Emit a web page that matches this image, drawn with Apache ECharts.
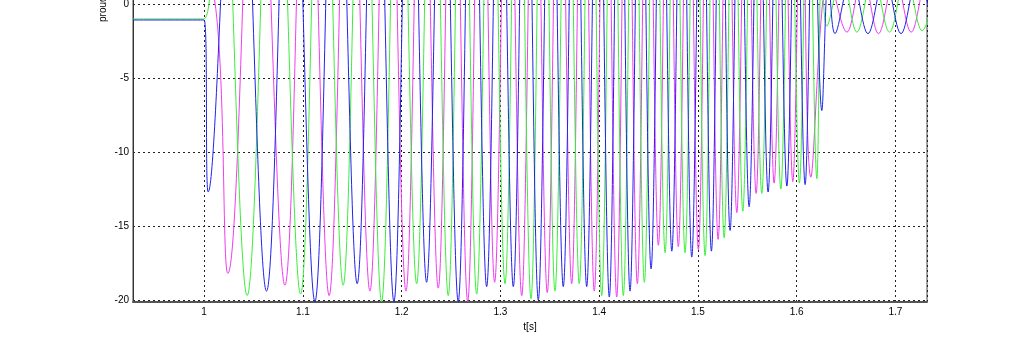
<!DOCTYPE html>
<html>
<head>
<meta charset="utf-8">
<script src="https://cdn.jsdelivr.net/npm/echarts@6/dist/echarts.min.js"></script>
<style>html,body{margin:0;padding:0;background:#fff;}#c{width:1024px;height:353px;}</style>
</head>
<body>
<div id="c"></div>
<script>
// turning points [t, value] (peaks above the visible area are estimates)
const blueData = [[0.928,-1.08],[1.0,-1.08],[1.0041,-12.7],[1.0337,19],[1.0632,-19.4],[1.0877,19.5],[1.1122,-20.1],[1.1336,19.5],[1.155,-18.9],[1.1736,19.5],[1.1922,-20.1],[1.2088,19.5],[1.2253,-18.8],[1.2413,19.5],[1.2573,-20.1],[1.2717,19.5],[1.2861,-19.1],[1.2996,19.2],[1.3131,-19.1],[1.3258,19.5],[1.3384,-20.0],[1.3511,19.5],[1.3637,-19.1],[1.3756,19.1],[1.3874,-19.1],[1.3989,19.4],[1.4103,-19.8],[1.4208,19.6],[1.4313,-19.4],[1.442,18.6],[1.4526,-17.9],[1.4631,17.3],[1.4736,-16.7],[1.4837,16.9],[1.4938,-17.1],[1.5038,16.9],[1.5137,-16.7],[1.5232,16],[1.5326,-15.3],[1.5423,14.5],[1.5519,-13.7],[1.5615,13.2],[1.5711,-12.7],[1.5806,12.5],[1.5901,-12.3],[1.5994,12.2],[1.6086,-12.2],[1.6171,9],[1.6255,-7.2],[1.6322,2.0],[1.6388,-2.0],[1.6555,1.9],[1.6722,-2.0],[1.689,1.9],[1.7057,-2.0],[1.7224,1.9],[1.739,-2.0]];
const magentaData = [[0.928,2.2],[1.0,2.2],[1.024,-18.2],[1.0529,18.6],[1.0818,-19.0],[1.1042,19.3],[1.1266,-19.7],[1.1473,19.5],[1.1679,-19.4],[1.1862,19.4],[1.2044,-19.4],[1.2208,19.3],[1.2371,-19.2],[1.252,19.6],[1.2669,-20.1],[1.2806,19.4],[1.2942,-18.8],[1.3079,19.2],[1.3216,-19.7],[1.3346,19.6],[1.3475,-19.5],[1.3599,19.2],[1.3722,-18.9],[1.3837,19.1],[1.3951,-19.4],[1.4065,19.6],[1.4178,-19.8],[1.4283,19.3],[1.4387,-18.9],[1.4494,17.6],[1.46,-16.3],[1.4701,16.3],[1.4802,-16.4],[1.4904,16.5],[1.5005,-16.6],[1.5105,16.2],[1.5205,-15.9],[1.53,15],[1.5394,-14.1],[1.5492,13.4],[1.559,-12.8],[1.5681,12.4],[1.5772,-12.1],[1.5867,12],[1.5961,-12.0],[1.6053,11.8],[1.6144,-11.7],[1.6326,2.0],[1.6509,-1.9],[1.6669,1.9],[1.6829,-2.0],[1.6995,1.9],[1.716,-1.9],[1.7326,1.9],[1.75,-2.0]];
const greenData = [[0.928,-1.01],[1.0,-1.01],[1.0146,19],[1.0436,-19.7],[1.0707,19.6],[1.0977,-19.6],[1.1193,19.3],[1.1408,-19.0],[1.1603,19.5],[1.1797,-20.1],[1.1975,19.5],[1.2152,-18.9],[1.2312,19.3],[1.2472,-19.7],[1.2616,19.6],[1.276,-19.6],[1.2904,19.2],[1.3047,-18.9],[1.3179,19.4],[1.331,-19.9],[1.3432,19.6],[1.3553,-19.4],[1.3676,19.1],[1.3799,-18.9],[1.3913,19.3],[1.4026,-19.7],[1.4136,19.7],[1.4245,-19.7],[1.4352,19.2],[1.4458,-18.8],[1.4563,17.8],[1.4668,-16.8],[1.4769,16.8],[1.487,-16.8],[1.4972,16.9],[1.5073,-17.0],[1.517,16.4],[1.5266,-15.8],[1.5361,14.9],[1.5455,-14.0],[1.5551,13.4],[1.5647,-12.8],[1.5744,12.6],[1.584,-12.5],[1.5934,12.3],[1.6028,-12.1],[1.6117,12],[1.6205,-11.8],[1.6255,3.0],[1.6306,-1.5],[1.6458,1.9],[1.661,-1.9],[1.6775,1.9],[1.694,-1.9],[1.7105,1.9],[1.727,-1.8],[1.744,1.9]];
const xLabel = 't[s]';
const yLabel = 'proud [A]';

const FONT = 'Liberation Sans, Arial, sans-serif';
const chart = echarts.init(document.getElementById('c'), null, {renderer: 'canvas'});
const lineSeries = (data, color) => ({
  type: 'line', data: data, showSymbol: false, smooth: 0.36, clip: true,
  lineStyle: {color: color, width: 1}, animation: false
});
chart.setOption({
  backgroundColor: '#ffffff',
  animation: false,
  grid: {left: 133, right: 97, top: -70, bottom: 51.5, outerBoundsMode: 'none', containLabel: false,
    show: true, borderColor: '#444', borderWidth: 1, backgroundColor: 'transparent'},
  xAxis: {
    type: 'value', min: 0.928, max: 1.732, minInterval: 0.1, maxInterval: 0.1,
    name: xLabel, nameLocation: 'middle', nameGap: 20,
    nameTextStyle: {fontFamily: FONT, fontSize: 10, color: '#000'},
    axisLine: {show: true, onZero: false, lineStyle: {color: '#555', width: 2}},
    axisTick: {show: false},
    axisLabel: {fontFamily: FONT, fontSize: 10, color: '#000', margin: 6, showMinLabel: false, showMaxLabel: false,
      formatter: v => String(Math.round(v * 10) / 10)},
    splitLine: {show: true, lineStyle: {color: '#222', type: [2, 3], width: 1}}
  },
  yAxis: {
    type: 'value', min: -20.1, max: 5, minInterval: 5, maxInterval: 5,
    axisLine: {show: true, onZero: false, lineStyle: {color: '#333', width: 1}},
    axisTick: {show: false},
    axisLabel: {fontFamily: FONT, fontSize: 10, color: '#000', margin: 4, showMinLabel: false},
    splitLine: {show: true, lineStyle: {color: '#222', type: [2, 3], width: 1}}
  },
  graphic: [{
    type: 'text', x: 98, y: 22, rotation: Math.PI / 2,
    style: {text: yLabel, fontFamily: FONT, fontSize: 10, fill: '#000', textAlign: 'left', textVerticalAlign: 'top'}
  }],
  series: [
    lineSeries(magentaData, '#f03cf0'),
    lineSeries(greenData, '#3cee3c'),
    lineSeries(blueData, '#2222ee')
  ]
});
</script>
</body>
</html>
